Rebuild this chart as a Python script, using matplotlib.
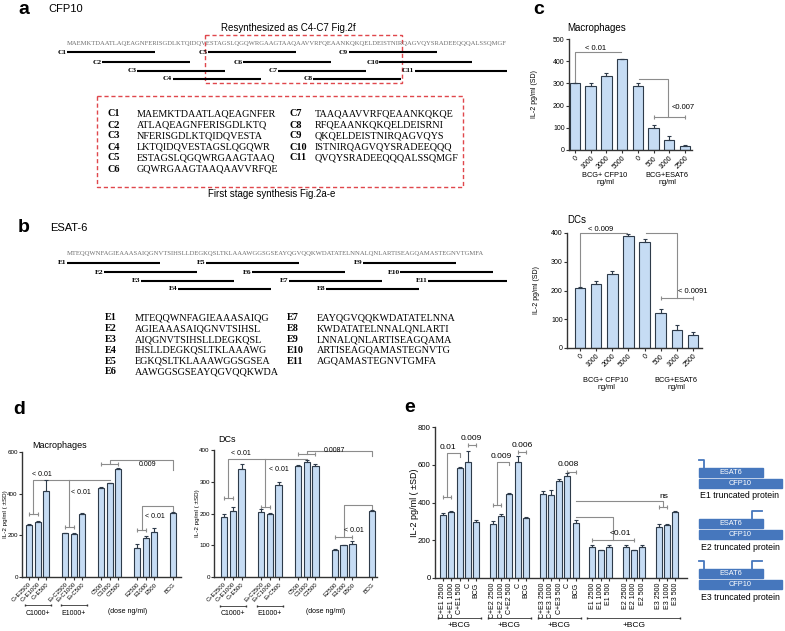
import numpy as np
import matplotlib.pyplot as plt
from matplotlib.patches import Rectangle

plt.rcParams['font.family'] = ['Liberation Sans', 'DejaVu Sans']

W, H = 785, 631

# ---------------- data ----------------
cfp10_seq = "MAEMKTDAATLAQEAGNFERISGDLKTQIDQVESTAGSLQGQWRGAAGTAAQAAVVRFQEAANKQKQELDEISTNIRQAGVQYSRADEEQQQALSSQMGF"
cfp10_names = ["C1", "C2", "C3", "C4", "C5", "C6", "C7", "C8", "C9", "C10", "C11"]
cfp10_peps = ["MAEMKTDAATLAQEAGNFER", "ATLAQEAGNFERISGDLKTQ", "NFERISGDLKTQIDQVESTA",
              "LKTQIDQVESTAGSLQGQWR", "ESTAGSLQGQWRGAAGTAAQ", "GQWRGAAGTAAQAAVVRFQE",
              "TAAQAAVVRFQEAANKQKQE", "RFQEAANKQKQELDEISRNI", "QKQELDEISTNIRQAGVQYS",
              "ISTNIRQAGVQYSRADEEQQQ", "QVQYSRADEEQQQALSSQMGF"]

esat6_seq = "MTEQQWNFAGIEAAASAIQGNVTSIHSLLDEGKQSLTKLAAAWGGSGSEAYQGVQQKWDATATELNNALQNLARTISEAGQAMASTEGNVTGMFA"
esat6_names = ["E1", "E2", "E3", "E4", "E5", "E6", "E7", "E8", "E9", "E10", "E11"]
esat6_peps = ["MTEQQWNFAGIEAAASAIQG", "AGIEAAASAIQGNVTSIHSL", "AIQGNVTSIHSLLDEGKQSL",
              "IHSLLDEGKQSLTKLAAAWG", "EGKQSLTKLAAAWGGSGSEA", "AAWGGSGSEAYQGVQQKWDA",
              "EAYQGVQQKWDATATELNNA", "KWDATATELNNALQNLARTI", "LNNALQNLARTISEAGQAMA",
              "ARTISEAGQAMASTEGNVTG", "AGQAMASTEGNVTGMFA"]

c_labels = ["0", "1000", "2000", "5000", "0", "500", "1000", "2500"]
c_mac = [300, 290, 335, 410, 290, 97, 45, 18]
c_mac_err = [2, 12, 10, 2, 10, 15, 20, 6]
c_dc = [210, 222, 257, 390, 368, 123, 62, 45]
c_dc_err = [2, 12, 10, 8, 10, 12, 18, 10]

d_labels = ["C+E2500", "C+E1000", "C+E500", "E+C2500", "E+C1000", "E+C500",
            "C500", "C1000", "C2500", "E2500", "E1000", "E500", "BCG"]
d_groups = [3, 3, 3, 3, 1]
d_mac = [252, 262, 415, 210, 207, 303, 428, 450, 520, 140, 187, 218, 308]
d_mac_err = [3, 5, 50, 2, 3, 3, 3, 3, 3, 18, 12, 15, 2]
d_dc = [188, 207, 340, 205, 200, 290, 350, 362, 350, 85, 100, 105, 208]
d_dc_err = [10, 15, 15, 8, 3, 10, 3, 5, 5, 3, 2, 8, 2]

e_labels = ["C+E1 2500", "C+E1 1000", "C+E1 500", "C", "BCG",
            "C+E2 2500", "C+E2 1000", "C+E2 500", "C", "BCG",
            "C+E3 2500", "C+E3 1000", "C+E3 500", "C", "BCG",
            "E1 2500", "E1 1000", "E1 500",
            "E2 2500", "E2 1000", "E2 500",
            "E3 2500", "E3 1000", "E3 500"]
e_groups = [5, 5, 5, 3, 3, 3]
e_vals = [333, 349, 584, 612, 298,
          286, 330, 444, 612, 320,
          447, 442, 515, 540, 292,
          164, 146, 164, 164, 146, 164, 270, 279, 349]
e_err = [10, 8, 4, 60, 8,
         18, 10, 5, 35, 2,
         12, 25, 12, 15, 14,
         12, 2, 10, 12, 2, 12, 15, 8, 4]

bar_c = '#c6dcf4'
edge_c = '#2e3b4a'
line_c = '#8c8c8c'
box_c = '#4677bd'

fig = plt.figure(figsize=(W / 100, H / 100), dpi=100)
ov = fig.add_axes([0, 0, 1, 1])
ov.set_xlim(0, W)
ov.set_ylim(H, 0)
ov.axis('off')


def px_axes(left, top, right, bottom):
    return fig.add_axes([left / W, 1 - bottom / H, (right - left) / W, (bottom - top) / H])


def pep_start(seq, p):
    for k in range(len(p) - 7):
        i = seq.find(p[k:k + 8])
        if i >= 0:
            return i - k
    return 0


def peptide_map(seq, names, peps, x0, x1, y_seq, rows):
    cw = (x1 - x0) / len(seq)
    ov.text(x0, y_seq, seq, fontsize=4.8, family='Liberation Serif', color='#6e6e6e', va='center')
    for i, (n, p) in enumerate(zip(names, peps)):
        s = pep_start(seq, p)
        xs = x0 + s * cw
        xe = min(x0 + (s + len(p)) * cw, x1)
        y = rows[i % 4]
        ov.plot([xs, xe], [y, y], color='black', lw=1.5, solid_capstyle='butt')
        ov.text(xs - 0.5, y, n, ha='right', va='center', fontsize=5.3,
                family='Liberation Serif', fontweight='bold')


def pep_table(names, peps, y0, dy, cols):
    for i, (n, p) in enumerate(zip(names, peps)):
        col = 0 if i < 6 else 1
        row = i % 6
        lx, sx = cols[col]
        y = y0 + row * dy
        ov.text(lx, y, n, fontweight='bold', family='Liberation Serif', fontsize=7.3, va='center')
        ov.text(sx, y, p, family='Liberation Serif', fontsize=7.3, va='center')


def dashed_box(x0, y0, x1, y1):
    ov.add_patch(Rectangle((x0, y0), x1 - x0, y1 - y0, fill=False, edgecolor='#e0474c',
                           lw=1.0, linestyle=(0, (3, 2))))


# ---------------- panel a ----------------
ov.text(18, 9, "a", fontsize=14, fontweight='bold', va='center')
ov.text(48, 9, "CFP10", fontsize=8, va='center')
ov.text(288, 28, "Resynthesized as C4-C7 Fig.2f", fontsize=7, ha='center', va='center')
dashed_box(205, 35, 402, 83)
peptide_map(cfp10_seq, cfp10_names, cfp10_peps, 67, 507, 44, [52, 62, 71, 79])
dashed_box(97, 96, 463, 187)
pep_table(cfp10_names, cfp10_peps, 114, 11, [(107, 137), (290, 315)])
ov.text(272, 194, "First stage synthesis Fig.2a-e", fontsize=7, ha='center', va='center')

# ---------------- panel b ----------------
ov.text(18, 228, "b", fontsize=14, fontweight='bold', va='center')
ov.text(50, 228, "ESAT-6", fontsize=8, va='center')
peptide_map(esat6_seq, esat6_names, esat6_peps, 67, 507, 254, [263, 272, 281, 289])
pep_table(esat6_names, esat6_peps, 318, 10.8, [(105, 135), (287, 317)])


# ---------------- bar helpers ----------------
def group_positions(sizes, gap):
    pos, x = [], 0.0
    for s in sizes:
        for _ in range(s):
            pos.append(x)
            x += 1
        x += gap - 1
    return np.array(pos)


def bars(ax, pos, vals, err, width):
    ax.bar(pos, vals, width=width, color=bar_c, edgecolor=edge_c, linewidth=0.8, zorder=2)
    ax.errorbar(pos, vals, yerr=[np.zeros(len(err)), err], fmt='none', ecolor=edge_c,
                elinewidth=0.8, capsize=1.5, capthick=0.8, zorder=3)


def style(ax, ymax, ystep, pos, labels, rot, fs, yfs):
    ax.set_ylim(0, ymax)
    ax.set_yticks(np.arange(0, ymax + 1, ystep))
    for s in ['top', 'right']:
        ax.spines[s].set_visible(False)
    for s in ['left', 'bottom']:
        ax.spines[s].set_color('#333333')
        ax.spines[s].set_linewidth(1.0)
    ax.set_xticks(pos)
    if rot == 90:
        ax.set_xticklabels(labels, rotation=90, fontsize=fs)
    else:
        ax.set_xticklabels(labels, rotation=rot, ha='right', rotation_mode='anchor', fontsize=fs)
    ax.tick_params(axis='both', length=2.5, width=0.8, pad=1, color='#333333')
    ax.tick_params(axis='y', labelsize=yfs, pad=0.5)
    ax.patch.set_alpha(0)


def links(ax, paths):
    for p in paths:
        xs, ys = zip(*p)
        ax.plot(xs, ys, color=line_c, lw=0.8, clip_on=False, zorder=1)


def brackets(ax, specs):
    for x0, x1, y in specs:
        ax.plot([x0, x1], [y, y], color=line_c, lw=0.8, marker='|', markersize=3,
                markeredgewidth=0.8, clip_on=False, zorder=1)


def labels_at(ax, specs, fs):
    for x, y, t in specs:
        ax.text(x, y, t, fontsize=fs, ha='center', va='center', clip_on=False)


# ---------------- panel c ----------------
ov.text(533, 10, "c", fontsize=14, fontweight='bold', va='center')
c_pos = np.arange(len(c_labels))

ax = px_axes(569, 39, 692, 150)
bars(ax, c_pos, c_mac, c_mac_err, 0.66)
style(ax, 500, 100, c_pos, c_labels, 45, 5, 5)
ax.set_xlim(-0.38, 7.45)
ax.set_ylabel("IL-2 pg/ml (SD)", fontsize=5)
ax.yaxis.set_label_coords(-0.25, 0.5)
links(ax, [[(0, 302), (0, 440), (2.9, 440)], [(4.05, 320), (5.9, 320), (5.9, 150)]])
brackets(ax, [(5, 7, 150)])
labels_at(ax, [(1.3, 455, "< 0.01"), (6.9, 190, "<0.007")], 5.5)
ov.text(597, 28, "Macrophages", fontsize=7, ha='center', va='center')
ov.text(605, 179, "BCG+ CFP10\nng/ml", fontsize=5.3, ha='center', va='center', linespacing=1.1)
ov.text(667, 179, "BCG+ESAT6\nng/ml", fontsize=5.3, ha='center', va='center', linespacing=1.1)

ax = px_axes(567, 233, 702, 348)
bars(ax, c_pos, c_dc, c_dc_err, 0.66)
style(ax, 400, 100, c_pos, c_labels, 45, 5, 5)
ax.set_xlim(-0.8, 7.55)
ax.set_ylabel("IL-2 pg/ml (SD)", fontsize=5)
ax.yaxis.set_label_coords(-0.2, 0.5)
links(ax, [[(0, 213), (0, 400), (2.9, 400)], [(4.1, 400), (6.0, 400), (6.0, 174)]])
brackets(ax, [(5, 7, 174)])
labels_at(ax, [(1.25, 412, "< 0.009"), (7.0, 196, "< 0.0091")], 5.5)
ov.text(577, 220, "DCs", fontsize=7, ha='center', va='center')
ov.text(606, 384, "BCG+ CFP10\nng/ml", fontsize=5.3, ha='center', va='center', linespacing=1.1)
ov.text(676, 384, "BCG+ESAT6\nng/ml", fontsize=5.3, ha='center', va='center', linespacing=1.1)

# ---------------- panel d ----------------
ov.text(13, 410, "d", fontsize=14, fontweight='bold', va='center')
d_pos = group_positions(d_groups, 2.2)


def d_group_labels(ax):
    tr = ax.get_xaxis_transform()
    for (a, b), t in zip([(0, 2), (3, 5)], ["C1000+", "E1000+"]):
        ax.plot([d_pos[a] - 0.5, d_pos[b] + 0.5], [-0.225, -0.225], transform=tr, color='#333333',
                lw=0.6, marker='|', markersize=2, clip_on=False)
        ax.text((d_pos[a] + d_pos[b]) / 2, -0.29, t, transform=tr, fontsize=5, ha='center', va='center')
    ax.text((d_pos[6] + d_pos[11]) / 2, -0.275, "(dose ng/ml)", transform=tr, fontsize=5,
            ha='center', va='center')


ax = px_axes(22, 452, 181, 577)
bars(ax, d_pos, d_mac, d_mac_err, 0.72)
style(ax, 600, 200, d_pos, d_labels, 45, 4.3, 4.5)
ax.set_xlim(-0.82, 17.7)
ax.set_ylabel("IL-2 pg/ml ( \u00b1SD)", fontsize=4.5)
ax.yaxis.set_label_coords(-0.09, 0.5)
brackets(ax, [(0, 1, 302), (4.2, 5.2, 240), (8.4, 10.4, 542), (12.6, 13.6, 225)])
links(ax, [[(0.5, 302), (0.5, 466), (9.4, 466)], [(4.7, 240), (4.7, 466)],
           [(9.4, 542), (9.4, 562), (16.8, 562), (16.8, 515)],
           [(13.1, 225), (13.1, 341), (16.8, 341), (16.8, 315)]])
labels_at(ax, [(1.5, 494, "< 0.01"), (6.0, 405, "< 0.01"), (13.8, 540, "0.009"), (14.6, 290, "< 0.01")], 5)
ov.text(60, 446, "Macrophages", fontsize=6.5, ha='center', va='center')
d_group_labels(ax)

ax = px_axes(214, 450, 377, 577)
bars(ax, d_pos, d_dc, d_dc_err, 0.72)
style(ax, 400, 100, d_pos, d_labels, 45, 4.3, 4.5)
ax.set_xlim(-1.14, 17.4)
ax.set_ylabel("IL-2 pg/ml ( \u00b1SD)", fontsize=4.5)
ax.yaxis.set_label_coords(-0.085, 0.5)
brackets(ax, [(0, 1, 249), (4.2, 5.2, 220), (8.4, 10.4, 387), (12.6, 14.6, 126)])
links(ax, [[(0.5, 249), (0.5, 372), (9.4, 372)], [(4.7, 220), (4.7, 372)],
           [(9.4, 387), (9.4, 397), (16.8, 397), (16.8, 380)],
           [(13.6, 126), (13.6, 227), (16.8, 227), (16.8, 212)]])
labels_at(ax, [(1.9, 388, "< 0.01"), (6.2, 340, "< 0.01"), (12.6, 400, "0.0087"), (14.8, 145, "< 0.01")], 5)
ov.text(227, 440, "DCs", fontsize=6.5, ha='center', va='center')
d_group_labels(ax)

# ---------------- panel e ----------------
ov.text(404, 408, "e", fontsize=14, fontweight='bold', va='center')
e_pos = group_positions(e_groups, 2)

ax = px_axes(435, 427, 687, 578)
bars(ax, e_pos, e_vals, e_err, 0.72)
style(ax, 800, 200, e_pos, e_labels, 90, 5.0, 5.6)
ax.set_xlim(-0.96, 29.4)
ax.set_ylabel("IL-2 pg/ml ( \u00b1SD)", fontsize=6.5)
ax.yaxis.set_label_coords(-0.065, 0.5)
brackets(ax, [(0, 1, 428), (3, 4, 704), (6, 7, 385), (9, 10, 667), (15, 16, 561),
              (18, 23, 200), (26, 27, 374)])
links(ax, [[(0.5, 428), (0.5, 660), (2.0, 660), (2.0, 640)],
           [(6.5, 385), (6.5, 614), (8.0, 614), (8.0, 600)],
           [(16.0, 323), (20.5, 323), (20.5, 200)],
           [(16.0, 406), (26.5, 406), (26.5, 374)]])
labels_at(ax, [(0.6, 690, "0.01"), (3.4, 740, "0.009"), (7.0, 645, "0.009"), (9.6, 702, "0.006"),
               (15.1, 600, "0.008"), (21.4, 236, "<0.01"), (26.6, 430, "ns")], 6)
tr = ax.get_xaxis_transform()
for a, b in [(0, 4), (5, 9), (10, 14), (15, 23)]:
    ax.plot([e_pos[a] - 0.6, e_pos[b] + 0.6], [-0.262, -0.262], transform=tr, color='#333333',
            lw=0.6, marker='|', markersize=2, clip_on=False)
    ax.text((e_pos[a] + e_pos[b]) / 2, -0.315, "+BCG", transform=tr, fontsize=6,
            ha='center', va='center')

# truncated protein schematics
for k, top in enumerate([468, 519, 569]):
    ov.add_patch(Rectangle((699, top), 64, 9, color=box_c))
    ov.text(731, top + 4.5, "ESAT6", color='white', fontsize=5.3, ha='center', va='center')
    ov.add_patch(Rectangle((699, top + 11), 83, 9, color=box_c))
    ov.text(740, top + 15.5, "CFP10", color='white', fontsize=5.3, ha='center', va='center')
    ov.text(740, top + 28, "E%d truncated protein" % (k + 1), fontsize=6.3, ha='center', va='center')
    if k in (0, 2):
        ov.plot([699, 703.5, 703.5], [top - 8, top - 8, top], color=box_c, lw=1.3)
    if k in (1, 2):
        ov.plot([752, 752, 762], [top, top - 8, top - 8], color=box_c, lw=1.3)

fig.savefig("out.png", dpi=100)
